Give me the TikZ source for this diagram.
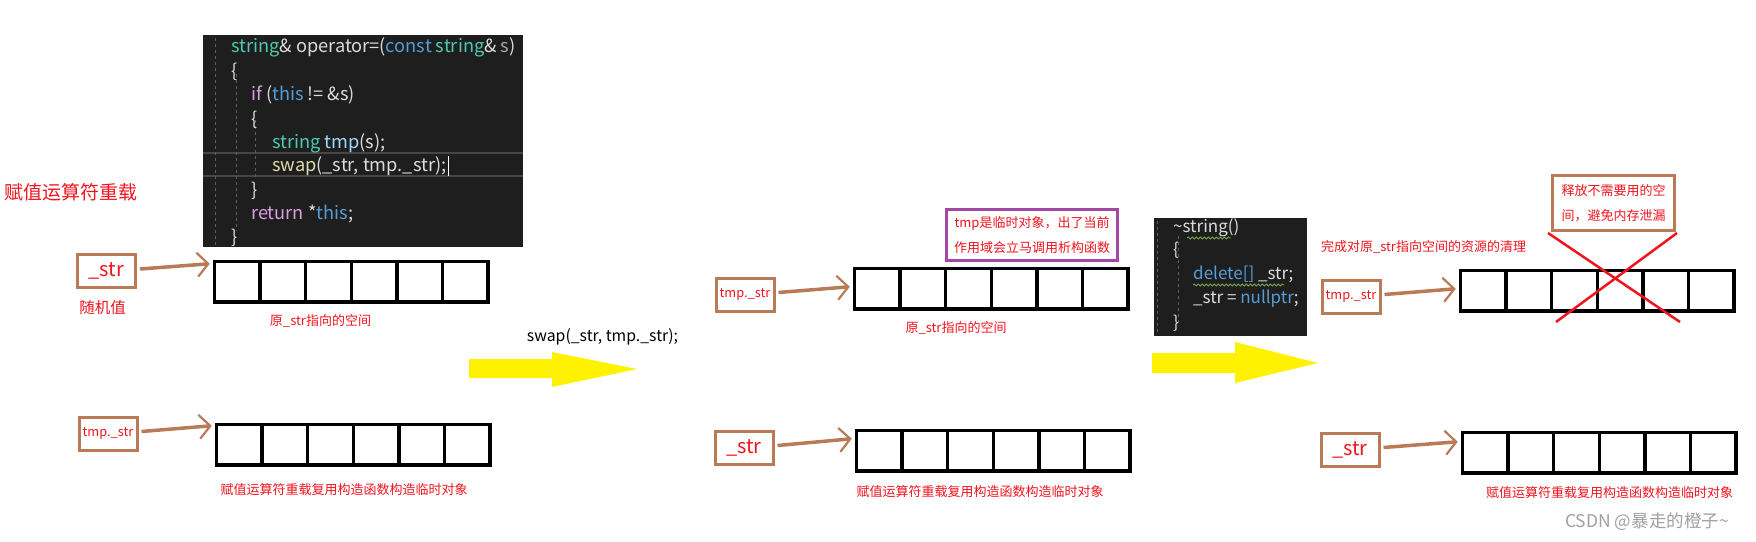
\documentclass[tikz,border=0pt]{standalone}
\usepackage{fontspec}
\setmainfont{Noto Sans CJK SC}
\usetikzlibrary{arrows.meta, decorations.pathmorphing}
\definecolor{ptrbrown}{HTML}{B97A57}
\definecolor{inkred}{HTML}{F0141E}
\definecolor{plum}{HTML}{A349A4}
\definecolor{hilite}{HTML}{FFF200}
\definecolor{ide}{HTML}{1E1E1E}
\definecolor{idegrid}{HTML}{464646}
\definecolor{idegd}{HTML}{5E5E5E}
\definecolor{vsTxt}{HTML}{DCDCDC}
\definecolor{vsPar}{HTML}{A8A8A8}
\definecolor{vsType}{HTML}{4EC9B0}
\definecolor{vsKw}{HTML}{569CD6}
\definecolor{vsCtl}{HTML}{D8A0DF}
\definecolor{vsFn}{HTML}{DCDCAA}
\definecolor{vsVar}{HTML}{9CDCFE}
\definecolor{squig}{HTML}{7FA650}
\definecolor{mark}{HTML}{A0A0A0}
\tikzset{
  panel/.style={fill=ide, inner sep=0pt},
  code/.style={anchor=west, inner sep=0pt, text=vsTxt, font=\fontsize{18.2}{21}\selectfont,
               text height=14pt, text depth=4pt},
  dcode/.style={code, font=\fontsize{17}{20}\selectfont, text height=13pt},
  rowline/.style={draw=idegrid, line width=2pt},
  guide/.style={draw=idegd, line width=0.8pt, dash pattern=on 3pt off 3pt},
  squiggle/.style={draw=squig, line width=0.8pt, decorate,
                   decoration={snake, amplitude=1pt, segment length=4pt}},
  cell/.style={draw=black, line width=3.5pt, minimum width=45.6pt, minimum height=40.5pt,
               inner sep=0pt, anchor=north west},
  ptr/.style={draw=ptrbrown, line width=3pt, text=inkred, minimum width=58pt,
              minimum height=33pt, inner sep=1pt, font=\fontsize{12.8}{15}\selectfont},
  ptrbig/.style={ptr, font=\fontsize{20}{22}\selectfont},
  ptrarr/.style={draw=ptrbrown, line width=3.5pt,
                 -{Straight Barb[length=11pt, width=24pt, line width=2.2pt]}},
  note/.style={text=inkred, inner sep=0pt, font=\fontsize{13}{15}\selectfont},
  box/.style={line width=3pt, text=inkred, align=center, inner sep=0pt,
              font=\fontsize{13}{25}\selectfont},
  cross/.style={draw=inkred, line width=2.5pt},
  yarrow/.style={fill=hilite},
}
\begin{document}
\begin{tikzpicture}[x=1pt, y=-1pt]
\useasboundingbox (0,0) rectangle (1756,541);

% assignment operator source
\node[panel, minimum width=320pt, minimum height=212pt] (op) at (363,141) {};
\draw[rowline] (203,153) -- (523,153);
\draw[rowline] (203,176) -- (523,176);
\draw[guide] (215,38) -- (215,247);
\draw[guide] (236,74) -- (236,231);
\draw[guide] (255,120) -- (255,178);
\node[code] (op1) at (231,47) {\textcolor{vsType}{string}\& operator=(\textcolor{vsKw}{const} \textcolor{vsType}{string}\& \textcolor{vsPar}{s})};
\node[code] (op2) at (231,72) {\{};
\node[code] (op3) at (251,95) {\textcolor{vsCtl}{if} (\textcolor{vsKw}{this} != \&s)};
\node[code] (op4) at (251,120) {\{};
\node[code] (op5) at (272,143) {\textcolor{vsType}{string} \textcolor{vsVar}{tmp}(s);};
\node[code] (op6) at (272,166) {\textcolor{vsFn}{swap}(\_str, tmp.\_str);};
\node[code] (op7) at (251,191) {\}};
\node[code] (op8) at (251,214) {\textcolor{vsCtl}{return} *\textcolor{vsKw}{this};};
\node[code] (op9) at (231,238) {\}};
\draw[white, line width=0.8pt] (op6.east) ++(2,-10) -- ++(0,20);

\node[text=inkred, inner sep=0pt, font=\fontsize{19}{21}\selectfont] (title) at (71.5,192) {赋值运算符重载};

% destructor source
\node[panel, minimum width=153pt, minimum height=118pt] (dt) at (1230.5,277) {};
\draw[guide] (1157,221) -- (1157,334);
\draw[guide] (1178,236) -- (1178,326);
\node[dcode] (dt1) at (1173,228) {\textasciitilde string()};
\node[dcode] (dt2) at (1173,251) {\{};
\node[dcode] (dt3) at (1193,275) {\textcolor{vsKw}{delete[]} \_str;};
\node[dcode] (dt4) at (1193,299) {\_str = \textcolor{vsKw}{nullptr};};
\node[dcode] (dt5) at (1173,324) {\}};
\draw[squiggle] (1187,238) -- (1231,238);
\draw[squiggle] (1193,285) -- (1284,285);

% char arrays
\foreach \n/\x/\y in {a/211/258, b/213/421, c/851/265, d/853/427, e/1457/267, f/1459/429}
  \foreach \i in {1,...,6}
    \node[cell] (\n\i) at ({\x+1.75+(\i-1)*45.6}, {\y+1.75}) {};

% pointers
\node[ptrbig] (p1) at (106.5,271) {\_str};
\node[ptr] (p2) at (108,433.5) {tmp.\_str};
\node[ptr] (p3) at (745,294.5) {tmp.\_str};
\node[ptrbig] (p4) at (744,447.5) {\_str};
\node[ptr] (p5) at (1351,296.5) {tmp.\_str};
\node[ptrbig] (p6) at (1350,449.5) {\_str};
\foreach \p/\c/\dy in {p1/a1/18, p2/b1/19, p3/c1/2, p4/d1/12, p5/e1/2, p6/f1/11}
  \draw[ptrarr] ([xshift=3pt,yshift=2pt]\p.east) -- ([xshift=-3pt,yshift=\dy pt]\c.west);

% labels
\node[note, font=\fontsize{15.5}{17}\selectfont] (rand) at (102.5,308) {随机值};
\node[note] (orig1) at (320.5,321) {原\_str指向的空间};
\node[note] (tmp1) at (344,490) {赋值运算符重载复用构造函数构造临时对象};
\node[note] (orig2) at (956,328) {原\_str指向的空间};
\node[note] (tmp2) at (980,492) {赋值运算符重载复用构造函数构造临时对象};
\node[note] (tmp3) at (1609.5,493) {赋值运算符重载复用构造函数构造临时对象};
\node[note] (clean) at (1423.5,247) {完成对原\_str指向空间的资源的清理};
\node[inner sep=0pt, font=\fontsize{15.8}{18}\selectfont] (call) at (602.5,337) {swap(\_str, tmp.\_str);};

\node[box, draw=plum, minimum width=171pt, minimum height=51pt] (scope) at (1032,235)
  {tmp是临时对象，出了当前\\作用域会立马调用析构函数};
\node[box, draw=ptrbrown, minimum width=122pt, minimum height=55pt] (free) at (1613.5,203)
  {释放不需要用的空\\间，避免内存泄漏};
\draw[cross] (1548,233) -- (1680,322);
\draw[cross] (1677,233) -- (1556,322);

% step arrows
\fill[yarrow] (469,359) -- (552,359) -- (552,352) -- (637,369) -- (552,387) -- (552,378) -- (469,378) -- cycle;
\fill[yarrow] (1152,353) -- (1235,353) -- (1235,342) -- (1318,363) -- (1235,383) -- (1235,373) -- (1152,373) -- cycle;

\node[text=mark, inner sep=0pt, font=\fontsize{17.5}{20}\selectfont] (wm) at (1647,522) {CSDN @暴走的橙子\textasciitilde};
\end{tikzpicture}
\end{document}
